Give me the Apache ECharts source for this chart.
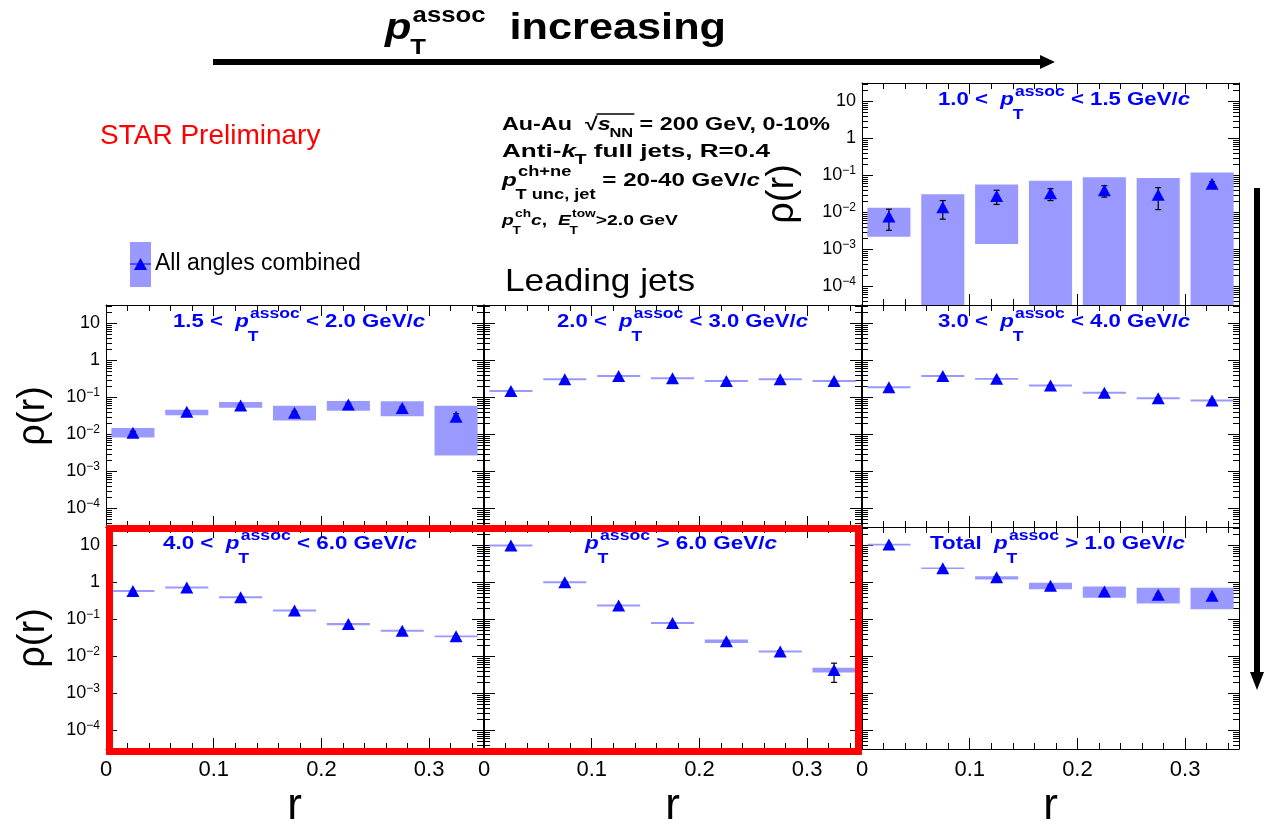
<!DOCTYPE html>
<html><head><meta charset="utf-8">
<script src="https://cdn.jsdelivr.net/npm/echarts@6/dist/echarts.min.js"></script>
<style>html,body{margin:0;padding:0;background:#fff}#c{width:1264px;height:822px}</style>
</head><body><div id="c"></div><script>
const FONT = '"Liberation Sans", Arial, Helvetica, sans-serif';

// ---------------- data ----------------
const rCenters = [0.025, 0.075, 0.125, 0.175, 0.225, 0.275, 0.325];
const xTickLabels = {0: '0', 0.1: '0.1', 0.2: '0.2', 0.3: '0.3'};
const yTickLabels = {'-4': '10^-4', '-3': '10^-3', '-2': '10^-2', '-1': '10^-1', '0': '1', '1': '10'};

// 1.0 < pT < 1.5
const rhoA    = [0.0078, 0.0138, 0.028, 0.033, 0.040, 0.030, 0.060];
const sysLoA  = [0.0022, 1e-6, 0.0014, 1e-6, 1e-6, 1e-6, 1e-6];
const sysHiA  = [0.0135, 0.031, 0.057, 0.072, 0.090, 0.085, 0.12];
const statLoA = [0.0033, 0.0066, 0.0165, 0.021, 0.026, 0.012, 0.050];
const statHiA = [0.0123, 0.021, 0.040, 0.044, 0.053, 0.047, 0.068];
// 1.5 < pT < 2.0
const rhoB    = [0.0112, 0.041, 0.061, 0.039, 0.065, 0.052, 0.030];
const sysLoB  = [0.0083, 0.033, 0.053, 0.024, 0.044, 0.031, 0.0027];
const sysHiB  = [0.015, 0.047, 0.075, 0.060, 0.081, 0.079, 0.060];
const statLoB = [0.0102, 0.038, 0.057, 0.036, 0.060, 0.048, 0.023];
const statHiB = [0.0122, 0.044, 0.065, 0.042, 0.070, 0.056, 0.036];
// 2.0 < pT < 3.0
const rhoC    = [0.15, 0.31, 0.38, 0.33, 0.28, 0.31, 0.28];
const sysLoC  = [0.141, 0.292, 0.357, 0.310, 0.263, 0.292, 0.263];
const sysHiC  = [0.159, 0.329, 0.403, 0.350, 0.297, 0.329, 0.297];
const statLoC = [0.145, 0.30, 0.37, 0.32, 0.27, 0.30, 0.27];
const statHiC = [0.155, 0.32, 0.39, 0.34, 0.29, 0.32, 0.29];
// 3.0 < pT < 4.0
const rhoD    = [0.19, 0.38, 0.32, 0.21, 0.134, 0.096, 0.083];
const sysLoD  = [0.179, 0.357, 0.301, 0.197, 0.126, 0.090, 0.078];
const sysHiD  = [0.201, 0.403, 0.339, 0.223, 0.142, 0.102, 0.088];
const statLoD = [0.185, 0.37, 0.31, 0.205, 0.130, 0.093, 0.080];
const statHiD = [0.195, 0.39, 0.33, 0.215, 0.138, 0.099, 0.086];
// 4.0 < pT < 6.0
const rhoE    = [0.59, 0.73, 0.40, 0.175, 0.075, 0.050, 0.035];
const sysLoE  = [0.555, 0.686, 0.376, 0.164, 0.070, 0.047, 0.033];
const sysHiE  = [0.625, 0.774, 0.424, 0.186, 0.080, 0.053, 0.037];
const statLoE = [0.57, 0.71, 0.39, 0.17, 0.073, 0.048, 0.034];
const statHiE = [0.61, 0.75, 0.41, 0.18, 0.077, 0.052, 0.036];
// pT > 6.0
const rhoF    = [10.0, 1.02, 0.24, 0.081, 0.026, 0.0137, 0.0043];
const sysLoF  = [9.4, 0.96, 0.226, 0.076, 0.023, 0.0129, 0.0037];
const sysHiF  = [10.6, 1.08, 0.254, 0.086, 0.029, 0.0145, 0.0050];
const statLoF = [9.8, 1.0, 0.235, 0.079, 0.025, 0.0130, 0.0020];
const statHiF = [10.2, 1.04, 0.245, 0.083, 0.027, 0.0144, 0.0066];
// Total pT > 1.0
const rhoG    = [10.6, 2.43, 1.38, 0.82, 0.57, 0.47, 0.44];
const sysLoG  = [10.0, 2.30, 1.20, 0.66, 0.39, 0.27, 0.19];
const sysHiG  = [11.2, 2.56, 1.48, 0.98, 0.78, 0.72, 0.72];
const statLoG = [10.4, 2.38, 1.34, 0.79, 0.55, 0.45, 0.42];
const statHiG = [10.8, 2.48, 1.42, 0.85, 0.59, 0.49, 0.46];

const P = {t: 'p', it: true, sup: 'assoc', sub: 'T'};
const titleA = [{t: '1.0 <  '}, P, {t: ' < 1.5 GeV/'}, {t: 'c', it: true}];
const titleB = [{t: '1.5 <  '}, P, {t: ' < 2.0 GeV/'}, {t: 'c', it: true}];
const titleC = [{t: '2.0 <  '}, P, {t: ' < 3.0 GeV/'}, {t: 'c', it: true}];
const titleD = [{t: '3.0 <  '}, P, {t: ' < 4.0 GeV/'}, {t: 'c', it: true}];
const titleE = [{t: '4.0 <  '}, P, {t: ' < 6.0 GeV/'}, {t: 'c', it: true}];
const titleF = [P, {t: ' > 6.0 GeV/'}, {t: 'c', it: true}];
const titleG = [{t: 'Total  '}, P, {t: ' > 1.0 GeV/'}, {t: 'c', it: true}];

// ---------------- layout ----------------
const W = 377, H = 222;
const panels = [
  {left: 862, top: 83,  rho: rhoA, sLo: sysLoA, sHi: sysHiA, eLo: statLoA, eHi: statHiA, title: titleA, tx: 938, tw: 252, yLab: true,  xLab: false},
  {left: 106, top: 305, rho: rhoB, sLo: sysLoB, sHi: sysHiB, eLo: statLoB, eHi: statHiB, title: titleB, tx: 173, tw: 252, yLab: true,  xLab: false},
  {left: 484, top: 305, rho: rhoC, sLo: sysLoC, sHi: sysHiC, eLo: statLoC, eHi: statHiC, title: titleC, tx: 557, tw: 251, yLab: false, xLab: false},
  {left: 862, top: 305, rho: rhoD, sLo: sysLoD, sHi: sysHiD, eLo: statLoD, eHi: statHiD, title: titleD, tx: 938, tw: 252, yLab: false, xLab: false},
  {left: 106, top: 527, rho: rhoE, sLo: sysLoE, sHi: sysHiE, eLo: statLoE, eHi: statHiE, title: titleE, tx: 163, tw: 254, yLab: true,  xLab: true},
  {left: 484, top: 527, rho: rhoF, sLo: sysLoF, sHi: sysHiF, eLo: statLoF, eHi: statHiF, title: titleF, tx: 585, tw: 192, yLab: false, xLab: true},
  {left: 862, top: 527, rho: rhoG, sLo: sysLoG, sHi: sysHiG, eLo: statLoG, eHi: statHiG, title: titleG, tx: 930, tw: 255, yLab: false, xLab: true}
];

const mctx = document.createElement('canvas').getContext('2d');
function measure(text, font) { mctx.font = font; return mctx.measureText(text).width; }

// builds a text run with stacked super/subscripts, horizontally fitted to targetW
function compose(x, yc, tokens, size, color, weight, opt) {
  opt = opt || {};
  const els = [];
  let cx = 0;
  const ssz = Math.round(size * (opt.ss || 0.72));
  for (const tk of tokens) {
    const font = (tk.it ? 'italic ' : '') + weight + ' ' + size + 'px ' + FONT;
    const w = measure(tk.t, font);
    els.push({type: 'text', x: cx, y: yc, style: {text: tk.t, font: font, fill: color, align: 'left', verticalAlign: 'middle'}});
    cx += w;
    let adv = 0;
    const sfont = weight + ' ' + ssz + 'px ' + FONT;
    if (tk.sup) {
      els.push({type: 'text', x: cx + 1, y: yc - size * (opt.supDy || 0.45), style: {text: tk.sup, font: sfont, fill: color, align: 'left', verticalAlign: 'middle'}});
      adv = Math.max(adv, measure(tk.sup, sfont) + 1);
    }
    if (tk.sub) {
      els.push({type: 'text', x: cx - 1, y: yc + size * (opt.subDy || 0.62), style: {text: tk.sub, font: sfont, fill: color, align: 'left', verticalAlign: 'middle'}});
      adv = Math.max(adv, measure(tk.sub, sfont) - 1);
    }
    cx += adv;
  }
  const sx = opt.targetW ? opt.targetW / cx : 1;
  return {type: 'group', x: x, y: 0, scaleX: sx, children: els.concat(opt.extra ? opt.extra(measure) : [])};
}

function yFormatter(v) {
  const l = Math.log10(v), e = Math.round(l);
  if (Math.abs(l - e) > 0.01) return '';
  const s = yTickLabels[String(e)];
  if (!s) return '';
  if (s.indexOf('^') < 0) return s;
  const parts = s.split('^');
  return '{b|' + parts[0] + '}{s|' + parts[1].replace('-', '\u2212') + '}';
}
function xFormatter(v) {
  const k = Math.round(v * 10) / 10;
  return xTickLabels[k] !== undefined ? xTickLabels[k] : '';
}

const grids = [], xAxes = [], yAxes = [], series = [];
const tickStyle = {color: '#000', width: 1};
panels.forEach((p, i) => {
  grids.push({left: p.left, top: p.top, width: W, height: H, containLabel: false, outerBoundsMode: 'none'});
  const xi = xAxes.length, yi = yAxes.length;
  const xBase = {gridIndex: i, type: 'value', min: 0, max: 0.35, interval: 0.1,
    axisLine: {show: true, onZero: false, lineStyle: tickStyle},
    axisTick: {show: true, inside: true, length: 11, lineStyle: tickStyle},
    minorTick: {show: true, splitNumber: 5, length: 6, lineStyle: tickStyle},
    splitLine: {show: false}};
  xAxes.push(Object.assign({}, xBase, {position: 'bottom',
    axisLabel: {show: p.xLab, fontSize: 22, color: '#000', fontFamily: FONT, margin: 10, showMaxLabel: false, formatter: xFormatter},
    name: p.xLab ? 'r' : '', nameLocation: 'middle', nameGap: 36,
    nameTextStyle: {fontSize: 44, color: '#000', fontFamily: FONT}}));
  xAxes.push(Object.assign({}, xBase, {position: 'top', axisLabel: {show: false}}));
  const yBase = {gridIndex: i, type: 'log', logBase: 10, min: Math.pow(10, -4.5), max: Math.pow(10, 1.5), splitNumber: 6,
    axisLine: {show: true, onZero: false, lineStyle: tickStyle},
    axisTick: {show: true, inside: true, length: 11, lineStyle: tickStyle},
    minorTick: {show: true, splitNumber: 9, length: 6, lineStyle: tickStyle},
    splitLine: {show: false}};
  yAxes.push(Object.assign({}, yBase, {position: 'left',
    axisLabel: {show: p.yLab, fontSize: 18, color: '#000', fontFamily: FONT, margin: 6, showMinLabel: false, showMaxLabel: false,
      formatter: yFormatter,
      rich: {b: {fontSize: 18, fontFamily: FONT, color: '#000'},
             s: {fontSize: 12, fontFamily: FONT, color: '#000', padding: [0, 0, 10, 0]}}},
    name: p.yLab ? 'ρ(r)' : '', nameLocation: 'middle', nameGap: p.left > 800 ? 60 : 53,
    nameTextStyle: {fontSize: 38, color: '#000', fontFamily: FONT}}));
  yAxes.push(Object.assign({}, yBase, {position: 'right', axisLabel: {show: false}}));

  // systematic boxes
  series.push({type: 'custom', xAxisIndex: xi, yAxisIndex: yi, z: 2,
    data: rCenters.map((x, k) => [x, p.sLo[k], p.sHi[k]]),
    encode: {x: 0, y: [1, 2]},
    renderItem: (params, api) => {
      const x = api.value(0), lo = api.value(1), hi = api.value(2);
      const a = api.coord([x - 0.02, hi]), b = api.coord([x + 0.02, lo]);
      const cs = params.coordSys;
      const shape = echarts.graphic.clipRectByRect(
        {x: a[0], y: a[1], width: b[0] - a[0], height: Math.max(b[1] - a[1], 1.5)},
        {x: cs.x, y: cs.y, width: cs.width, height: cs.height});
      if (!shape) return null;
      return {type: 'rect', shape: shape, style: {fill: '#9999ff'}};
    }});
  // statistical error bars
  series.push({type: 'custom', xAxisIndex: xi, yAxisIndex: yi, z: 3,
    data: rCenters.map((x, k) => [x, p.eLo[k], p.eHi[k]]),
    encode: {x: 0, y: [1, 2]},
    renderItem: (params, api) => {
      const x = api.value(0);
      const t = api.coord([x, api.value(2)]), b = api.coord([x, api.value(1)]);
      const ls = {stroke: '#000', lineWidth: 1.2};
      return {type: 'group', children: [
        {type: 'line', shape: {x1: t[0], y1: t[1], x2: b[0], y2: b[1]}, style: ls},
        {type: 'line', shape: {x1: t[0] - 3, y1: t[1], x2: t[0] + 3, y2: t[1]}, style: ls},
        {type: 'line', shape: {x1: b[0] - 3, y1: b[1], x2: b[0] + 3, y2: b[1]}, style: ls}
      ]};
    }});
  // markers
  series.push({type: 'scatter', xAxisIndex: xi, yAxisIndex: yi, z: 4,
    data: rCenters.map((x, k) => [x, p.rho[k]]),
    symbol: 'triangle', symbolSize: [13, 12], itemStyle: {color: '#0000ff', opacity: 1}});
});

// ---------------- graphics ----------------
const gfx = [];
panels.forEach(p => {
  gfx.push(compose(p.tx, p.top + 17, p.title, 19, '#0000ff', 'bold', {ss: 0.8, supDy: 0.45, subDy: 0.78, targetW: p.tw}));
});

// top title + arrows
gfx.push(compose(385, 29, [{t: 'p', it: true, sup: 'assoc', sub: 'T'}, {t: '  increasing'}], 37, '#000', 'bold',
  {ss: 0.6, supDy: 0.35, subDy: 0.5, targetW: 341}));
gfx.push({type: 'polygon', shape: {points: [[213, 59], [1040, 59], [1040, 55], [1055, 62], [1040, 69], [1040, 65], [213, 65]]}, style: {fill: '#000'}});
gfx.push({type: 'polygon', shape: {points: [[1254, 188], [1260, 188], [1260, 672], [1264, 672], [1257, 690], [1250, 672], [1254, 672]]}, style: {fill: '#000'}});

// STAR Preliminary
gfx.push({type: 'text', x: 100, y: 136, style: {text: 'STAR Preliminary', font: '28px ' + FONT, fill: '#ff0000', verticalAlign: 'middle'}});
// legend
gfx.push({type: 'rect', shape: {x: 130, y: 242, width: 21, height: 45}, style: {fill: '#9999ff'}});
gfx.push({type: 'line', shape: {x1: 130, y1: 264, x2: 151, y2: 264}, style: {stroke: '#0000ff', lineWidth: 1}});
gfx.push({type: 'polygon', shape: {points: [[140.5, 258], [147, 270], [134, 270]]}, style: {fill: '#0000ff'}});
gfx.push({type: 'text', x: 155, y: 264, style: {text: 'All angles combined', font: '23px ' + FONT, fill: '#000', verticalAlign: 'middle'}});

// info text block
const B = 'bold';
gfx.push(compose(502, 125, [{t: 'Au-Au  \u221A'}, {t: 's', it: true, sub: 'NN'}, {t: ' = 200 GeV, 0-10%'}], 18.5, '#000', B, {
  subDy: 0.45, targetW: 328,
  extra: (m) => {
    const w0 = m('Au-Au  ', 'bold 18.5px ' + FONT), w1 = m('\u221A', 'bold 18.5px ' + FONT),
          w2 = m('s', 'italic bold 18.5px ' + FONT), w3 = m('NN', 'bold 13px ' + FONT);
    return [{type: 'line', shape: {x1: w0 + w1 - 1, y1: 114, x2: w0 + w1 + w2 + w3, y2: 114}, style: {stroke: '#000', lineWidth: 1.3}}];
  }}));
gfx.push(compose(502, 152, [{t: 'Anti-'}, {t: 'k', it: true, sub: 'T'}, {t: ' full jets, R=0.4'}], 18.5, '#000', B, {ss: 0.78, subDy: 0.45, targetW: 268}));
gfx.push(compose(502, 181, [{t: 'p', it: true, sup: 'ch+ne', sub: 'T unc, jet'}, {t: ' = 20-40 GeV/'}, {t: 'c', it: true}], 18.5, '#000', B, {ss: 0.78, supDy: 0.5, subDy: 0.75, targetW: 258}));
gfx.push(compose(502, 221, [{t: 'p', it: true, sup: 'ch', sub: 'T'}, {t: 'c', it: true}, {t: ',  '}, {t: 'E', it: true, sup: 'tow', sub: 'T'}, {t: '>2.0 GeV'}], 15.5, '#000', B, {ss: 0.7, targetW: 176}));
gfx.push(compose(505, 282, [{t: 'Leading jets'}], 32, '#000', 'normal', {targetW: 190}));

// red highlight box
gfx.push({type: 'rect', z: 100, shape: {x: 109.5, y: 528.5, width: 749, height: 223}, style: {fill: 'none', stroke: '#ff0000', lineWidth: 7}});

const chart = echarts.init(document.getElementById('c'), null, {renderer: 'canvas'});
chart.setOption({
  animation: false,
  backgroundColor: '#fff',
  grid: grids, xAxis: xAxes, yAxis: yAxes, series: series,
  graphic: {elements: gfx.map(e => Object.assign({z: 50}, e))}
});
</script></body></html>
